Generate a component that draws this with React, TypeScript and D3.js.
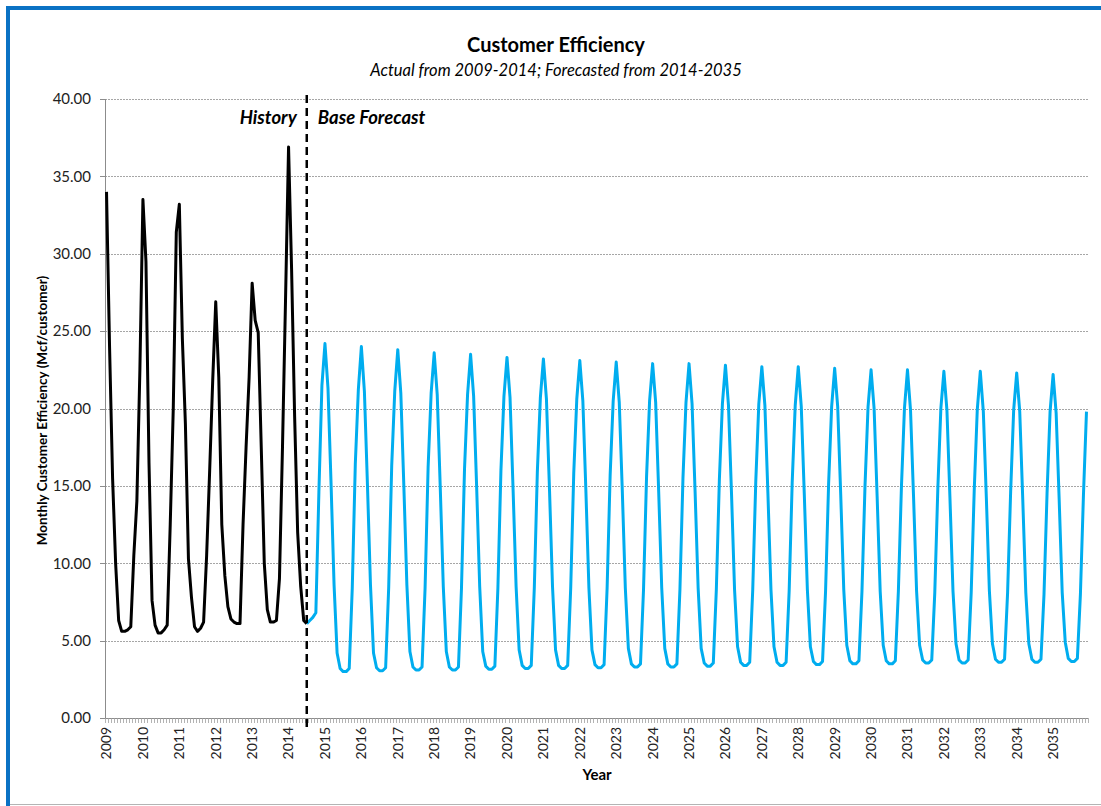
import React from "react";
import * as d3 from "d3";

// Monthly customer efficiency (Mcf/customer), Jan 2009 .. Jul 2014 (actuals)
const historyValues: number[] = [
  // 2009
  34.0, 24.0, 15.5, 10.0, 6.3, 5.6, 5.6, 5.7, 5.9, 10.5, 14.0, 22.5,
  // 2010
  33.5, 29.5, 16.5, 7.6, 6.0, 5.5, 5.5, 5.7, 6.0, 12.5, 20.0, 31.4,
  // 2011
  33.2, 24.5, 19.0, 10.3, 7.8, 5.9, 5.6, 5.8, 6.2, 10.5, 16.0, 21.8,
  // 2012
  26.9, 22.0, 12.5, 9.2, 7.2, 6.4, 6.2, 6.1, 6.1, 12.5, 17.5, 22.0,
  // 2013
  28.1, 25.7, 24.9, 17.5, 10.0, 7.0, 6.2, 6.2, 6.3, 9.0, 17.5, 27.0,
  // 2014 (Jan - Jul)
  36.9, 29.0, 19.5, 12.0, 8.5, 6.3, 6.1,
];

// Base forecast, Jul 2014 .. Dec 2035
const forecastValues: number[] = [
  // 2014 (Jul - Dec)
  6.1, 6.3, 6.5, 6.8, 14.6, 21.5,
  // 2015
  24.2, 21.3, 15.2, 8.6, 4.2, 3.2, 3.0, 3.0, 3.2, 8.4, 16.4, 21.2,
  // 2016
  24.0, 21.1, 15.1, 8.6, 4.2, 3.25, 3.05, 3.05, 3.25, 8.4, 16.3, 21.1,
  // 2017
  23.8, 21.0, 15.0, 8.6, 4.3, 3.3, 3.1, 3.1, 3.3, 8.4, 16.2, 21.0,
  // 2018
  23.6, 20.9, 14.9, 8.5, 4.3, 3.3, 3.1, 3.1, 3.3, 8.4, 16.1, 20.9,
  // 2019
  23.5, 20.8, 14.9, 8.5, 4.3, 3.35, 3.15, 3.15, 3.35, 8.4, 16.0, 20.8,
  // 2020
  23.3, 20.7, 14.8, 8.5, 4.4, 3.4, 3.2, 3.2, 3.4, 8.4, 15.9, 20.7,
  // 2021
  23.2, 20.6, 14.8, 8.5, 4.4, 3.4, 3.2, 3.2, 3.4, 8.4, 15.8, 20.6,
  // 2022
  23.1, 20.5, 14.7, 8.4, 4.4, 3.45, 3.25, 3.25, 3.45, 8.4, 15.7, 20.5,
  // 2023
  23.0, 20.4, 14.7, 8.4, 4.5, 3.5, 3.3, 3.3, 3.5, 8.3, 15.6, 20.5,
  // 2024
  22.9, 20.4, 14.6, 8.4, 4.5, 3.5, 3.3, 3.3, 3.5, 8.3, 15.5, 20.4,
  // 2025
  22.9, 20.3, 14.6, 8.4, 4.5, 3.55, 3.35, 3.35, 3.55, 8.3, 15.4, 20.3,
  // 2026
  22.8, 20.2, 14.5, 8.3, 4.6, 3.6, 3.4, 3.4, 3.6, 8.3, 15.3, 20.3,
  // 2027
  22.7, 20.2, 14.5, 8.3, 4.6, 3.6, 3.4, 3.4, 3.6, 8.2, 15.2, 20.2,
  // 2028
  22.7, 20.1, 14.4, 8.3, 4.6, 3.65, 3.45, 3.45, 3.65, 8.2, 15.1, 20.1,
  // 2029
  22.6, 20.1, 14.4, 8.3, 4.7, 3.7, 3.5, 3.5, 3.7, 8.2, 15.0, 20.1,
  // 2030
  22.5, 20.0, 14.3, 8.2, 4.7, 3.7, 3.5, 3.5, 3.7, 8.2, 14.9, 20.0,
  // 2031
  22.5, 19.9, 14.3, 8.2, 4.7, 3.75, 3.55, 3.55, 3.75, 8.1, 14.8, 20.0,
  // 2032
  22.4, 19.9, 14.2, 8.2, 4.8, 3.75, 3.55, 3.55, 3.75, 8.1, 14.7, 19.9,
  // 2033
  22.4, 19.8, 14.2, 8.2, 4.8, 3.8, 3.6, 3.6, 3.8, 8.1, 14.6, 19.9,
  // 2034
  22.3, 19.8, 14.1, 8.1, 4.8, 3.8, 3.6, 3.6, 3.8, 8.0, 14.5, 19.8,
  // 2035
  22.2, 19.7, 14.1, 8.1, 4.9, 3.85, 3.65, 3.65, 3.85, 8.0, 14.4, 19.8,
];

const yearLabels: string[] = [
  "2009", "2010", "2011", "2012", "2013", "2014", "2015", "2016", "2017",
  "2018", "2019", "2020", "2021", "2022", "2023", "2024", "2025", "2026",
  "2027", "2028", "2029", "2030", "2031", "2032", "2033", "2034", "2035",
];

const yTicks: number[] = [0, 5, 10, 15, 20, 25, 30, 35, 40];

const titleText = "Customer Efficiency";
const subtitleText = "Actual from 2009-2014; Forecasted from 2014-2035";
const yAxisTitle = "Monthly Customer Efficiency (Mcf/customer)";
const xAxisTitle = "Year";
const historyLabel = "History";
const forecastLabel = "Base Forecast";

const W = 1101;
const H = 806;
const plot = { left: 105, right: 1088, top: 99, bottom: 718 };
const FONT = "Lato, 'Open Sans', 'DejaVu Sans', sans-serif";

export default function App() {
  const monthCount = yearLabels.length * 12;
  const months = d3.range(monthCount);
  const forecastStart = historyValues.length - 1;

  const x = d3
    .scaleBand<number>()
    .domain(months)
    .range([plot.left, plot.right])
    .padding(0);
  const cx = (i: number) => (x(i) as number) + x.bandwidth() / 2;

  const y = d3.scaleLinear().domain([0, 40]).range([plot.bottom, plot.top]);

  const line = d3
    .line<[number, number]>()
    .x((d) => cx(d[0]))
    .y((d) => y(d[1]));

  const historyPts: [number, number][] = historyValues.map((v, i) => [i, v]);
  const forecastPts: [number, number][] = forecastValues.map((v, i) => [
    forecastStart + i,
    v,
  ]);

  const dividerX = cx(forecastStart);
  const grey = "#8c8c8c";

  return (
    <svg
      width={W}
      height={H}
      style={{ position: "absolute", left: 0, top: 0, background: "#fff" }}
      fontFamily={FONT}
    >
      {/* frame */}
      <line x1={6} x2={W} y1={8} y2={8} stroke="#0a72c4" strokeWidth={4} />
      <line x1={8} x2={8} y1={6} y2={H} stroke="#0a72c4" strokeWidth={4} />
      <line x1={10} x2={W} y1={804.5} y2={804.5} stroke="#b4b4b4" strokeWidth={1} />

      {/* titles */}
      <text x={556} y={52} textAnchor="middle" fontSize={20} fontWeight="bold" fill="#000">
        {titleText}
      </text>
      <text x={556} y={76} textAnchor="middle" fontSize={16.5} fontStyle="italic" fill="#000">
        {subtitleText}
      </text>

      {/* gridlines */}
      {yTicks
        .filter((t) => t > 0)
        .map((t) => (
          <line
            key={"g" + t}
            x1={plot.left}
            x2={plot.right}
            y1={Math.round(y(t)) + 0.5}
            y2={Math.round(y(t)) + 0.5}
            stroke="#a6a6a6"
            strokeWidth={1}
            strokeDasharray="2,1"
          />
        ))}

      {/* y axis */}
      <line
        x1={plot.left + 0.5}
        x2={plot.left + 0.5}
        y1={plot.top}
        y2={plot.bottom}
        stroke={grey}
      />
      {yTicks.map((t) => (
        <g key={"y" + t}>
          <line
            x1={plot.left - 5}
            x2={plot.left}
            y1={Math.round(y(t)) + 0.5}
            y2={Math.round(y(t)) + 0.5}
            stroke={grey}
          />
          <text
            x={91}
            y={y(t)}
            dy="0.35em"
            textAnchor="end"
            fontSize={15}
            fill="#222"
          >
            {t.toFixed(2)}
          </text>
        </g>
      ))}

      {/* x axis with monthly tick marks */}
      <line
        x1={plot.left}
        x2={plot.right}
        y1={plot.bottom + 0.5}
        y2={plot.bottom + 0.5}
        stroke={grey}
      />
      {d3.range(monthCount + 1).map((i) => {
        const tx = Math.round(plot.left + i * x.step()) + 0.5;
        return (
          <line
            key={"t" + i}
            x1={tx}
            x2={tx}
            y1={plot.bottom}
            y2={plot.bottom + 5}
            stroke="#a0a0a0"
            strokeWidth={0.8}
          />
        );
      })}
      {yearLabels.map((lab, k) => (
        <text
          key={lab}
          transform={`translate(${cx(k * 12)},727) rotate(-90)`}
          dy="0.35em"
          textAnchor="end"
          fontSize={14}
          fill="#222"
        >
          {lab}
        </text>
      ))}

      {/* axis titles */}
      <text
        transform={`translate(42,${(plot.top + plot.bottom) / 2 + 2}) rotate(-90)`}
        dy="0.35em"
        textAnchor="middle"
        fontSize={13.5}
        fontWeight="bold"
        fill="#000"
      >
        {yAxisTitle}
      </text>
      <text x={597} y={780} textAnchor="middle" fontSize={15} fontWeight="bold" fill="#000">
        {xAxisTitle}
      </text>

      {/* series */}
      <path
        d={line(forecastPts) || ""}
        fill="none"
        stroke="#00adef"
        strokeWidth={3}
        strokeLinejoin="round"
      />
      <path
        d={line(historyPts) || ""}
        fill="none"
        stroke="#000"
        strokeWidth={3}
        strokeLinejoin="round"
      />

      {/* history / forecast divider */}
      <line
        x1={dividerX}
        x2={dividerX}
        y1={plot.top - 4}
        y2={plot.bottom + 12}
        stroke="#000"
        strokeWidth={2.5}
        strokeDasharray="8,5"
      />
      <text
        x={dividerX - 10}
        y={124}
        textAnchor="end"
        fontSize={18.5}
        fontWeight="bold"
        fontStyle="italic"
        fill="#000"
      >
        {historyLabel}
      </text>
      <text
        x={dividerX + 11}
        y={124}
        textAnchor="start"
        fontSize={18.5}
        fontWeight="bold"
        fontStyle="italic"
        fill="#000"
      >
        {forecastLabel}
      </text>
    </svg>
  );
}
